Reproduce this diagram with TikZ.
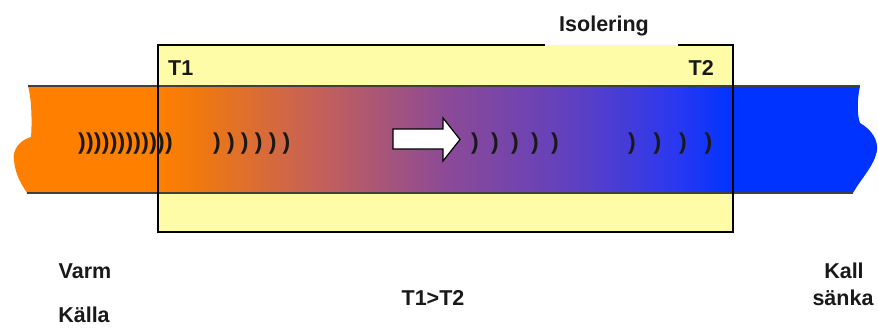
\documentclass[tikz,border=0pt]{standalone}
\usepackage{fontspec}
\setmainfont{Liberation Sans}
\definecolor{hot}{HTML}{FF8000}
\definecolor{cold}{HTML}{0033FF}
\definecolor{insul}{HTML}{FFFCA8}
% warm-to-cold colour run along the insulated bar
\pgfdeclarehorizontalshading{heatrun}{100bp}{%
  color(0bp)=(hot); color(25bp)=(hot); color(28.5bp)=(hot!94!blue);
  color(39bp)=({rgb,255:red,196;green,96;blue,90});
  color(50bp)=({rgb,255:red,140;green,74;blue,150});
  color(61bp)=({rgb,255:red,96;green,64;blue,192});
  color(70bp)=({rgb,255:red,42;green,56;blue,240});
  color(75bp)=(cold); color(100bp)=(cold)}
\begin{document}
\begin{tikzpicture}[x=1pt,y=-1pt,
  lbl/.style={font=\fontsize{21.5}{24}\selectfont\bfseries, text=black!90, inner sep=0pt},
  wave/.style={font=\fontsize{23}{24}\selectfont\bfseries, text=black!90, inner sep=0pt},
  rim/.style={draw=black!75, line width=1.2pt}]
\useasboundingbox (0,0) rectangle (878,327);

% insulation jacket
\fill[insul] (158,45) rectangle (733,232);

% hot end of the bar
\fill[hot] (158,86) -- (28,86)
  .. controls (32,100) and (32,125) .. (31,137)
  .. controls (20,140) and (12,150) .. (14,160)
  .. controls (15,175) and (22,185) .. (27,193) -- (158,193) -- cycle;
% cold end of the bar
\fill[cold] (733,86) -- (860,86)
  .. controls (857,100) and (857,115) .. (860,123)
  .. controls (872,130) and (878,140) .. (877,150)
  .. controls (875,165) and (860,180) .. (853,193) -- (733,193) -- cycle;
% temperature gradient inside the jacket
\shade[shading=heatrun] (158,86) rectangle (733,193);

% bar outline
\draw[rim] (28,86) -- (860,86);
\draw[rim] (27,193) -- (853,193);

% jacket outline, open behind the heading
\draw[black, line width=1.2pt] (545,45) -- (158,45) -- (158,232) -- (733,232) -- (733,45) -- (678,45);

% heat flow arrow
\draw[black, line width=1.2pt, fill=white, line join=miter]
  (393,129) -- (443,129) -- (443,118) -- (460,139.5) -- (443,161) -- (443,149) -- (393,149) -- cycle;

% heat waves
\foreach \i in {0,...,11} \node[wave] (wa\i) at ({82+7.9*\i},144) {)};
\foreach \i in {0,...,5}  \node[wave] (wb\i) at ({217+13.9*\i},144) {)};
\foreach \i in {0,...,4}  \node[wave] (wc\i) at ({475+20*\i},144) {)};
\foreach \i in {0,...,3}  \node[wave] (wd\i) at ({632+25.5*\i},144) {)};

% labels
\node[lbl, anchor=base] (iso) at (604,31) {Isolering};
\node[lbl, anchor=base west] (t1) at (168,75) {T1};
\node[lbl, anchor=base east] (t2) at (714,75) {T2};
\node[lbl, anchor=base] (varm) at (85,278) {Varm};
\node[lbl, anchor=base] (kalla) at (84,322) {Källa};
\node[lbl, anchor=base] (kall) at (844,278) {Kall};
\node[lbl, anchor=base] (sanka) at (843,305) {sänka};
\node[lbl, anchor=base] (cmp) at (433,305) {T1>T2};
\end{tikzpicture}
\end{document}
